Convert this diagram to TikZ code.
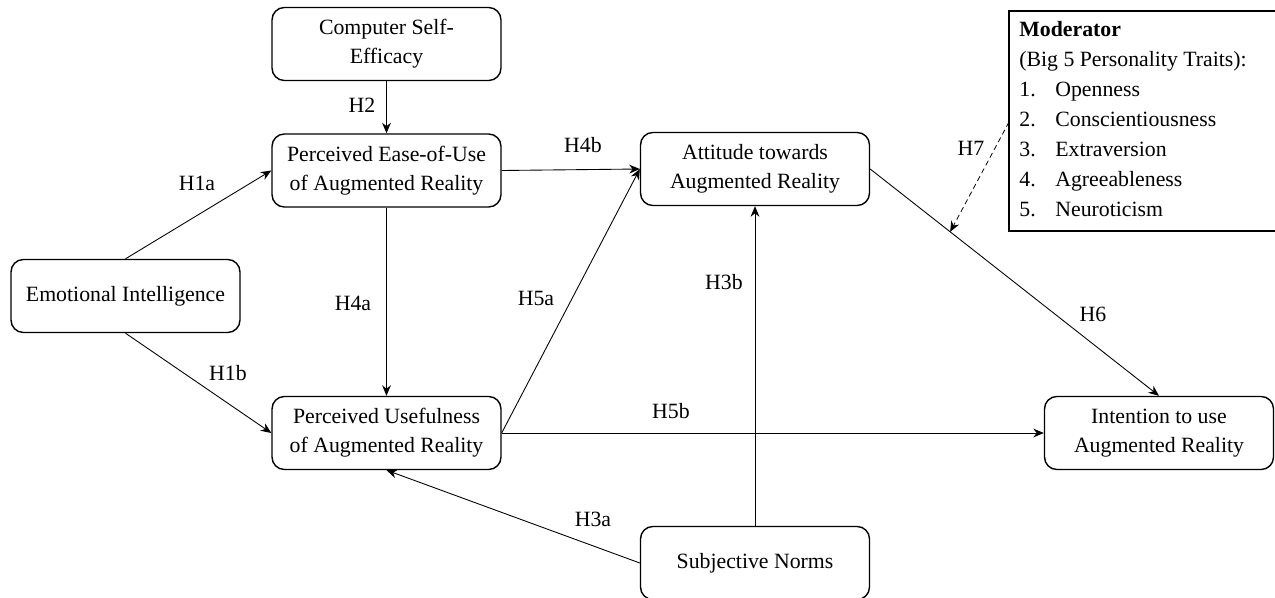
\documentclass[tikz,border=0pt]{standalone}
\usepackage{fontspec}
\setmainfont{Liberation Serif}
\usetikzlibrary{positioning, arrows.meta}

\begin{document}
\begin{tikzpicture}[
        x=0.02cm, y=-0.02cm,
        every node/.style={font=\fontsize{12.4}{16.4}\selectfont},
        construct/.style={draw, rectangle, rounded corners=7pt, line width=0.8pt, minimum width=4.58cm, minimum height=1.46cm, align=center, inner sep=2pt},
        hyp/.style={inner sep=1pt},
        link/.style={-{Stealth[length=6pt, width=5pt]}, line width=0.5pt},
        >=Stealth
    ]
        \useasboundingbox (0,0) rectangle (1275,598);

        % constructs
        \node[construct] (cse) at (386.5,44) {Computer Self-\\Efficacy};
        \node[construct] (peou) at (386.5,170.5) {Perceived Ease-of-Use\\of Augmented Reality};
        \node[construct] (ei) at (125.5,296) {Emotional Intelligence};
        \node[construct] (pu) at (386.5,433) {Perceived Usefulness\\of Augmented Reality};
        \node[construct] (att) at (755,169) {Attitude towards\\Augmented Reality};
        \node[construct] (iu) at (1159,433) {Intention to use\\Augmented Reality};
        \node[construct] (sn) at (755,563) {Subjective Norms};

        % moderator
        \draw[line width=0.8pt] (1009,11) rectangle (1290,231);
        \node[anchor=north west, align=left, inner sep=0pt, font=\fontsize{12.4}{17.1}\selectfont] (mod) at (1019,21) {%
            \textbf{Moderator}\\
            (Big 5 Personality Traits):\\
            \makebox[0.72cm][l]{1.}Openness\\
            \makebox[0.72cm][l]{2.}Conscientiousness\\
            \makebox[0.72cm][l]{3.}Extraversion\\
            \makebox[0.72cm][l]{4.}Agreeableness\\
            \makebox[0.72cm][l]{5.}Neuroticism};

        % paths
        \draw[link] (ei.north) -- (peou.west);
        \draw[link] (ei.south) -- (pu.west);
        \draw[link] (cse) -- (peou);
        \draw[link] (peou) -- (pu);
        \draw[link] (peou.east) -- (att.west);
        \draw[link] (pu.east) -- (att.west);
        \draw[link] (pu.east) -- (iu.west);
        \draw[link] (sn) -- (att);
        \draw[link] (sn.west) -- (pu.south);
        \draw[link] (att.east) -- coordinate[pos=0.277] (mid) (iu.north);
        \draw[link, densely dashed, line width=0.45pt] (1009,122) coordinate (modl) -- (mid);

        % hypothesis labels
        \node[hyp] (h1a) at (197,183) {H1a};
        \node[hyp] (h1b) at (228,373) {H1b};
        \node[hyp] (h2) at (362,105) {H2};
        \node[hyp] (h4a) at (353,303) {H4a};
        \node[hyp] (h4b) at (583,145) {H4b};
        \node[hyp] (h5a) at (536,298) {H5a};
        \node[hyp] (h5b) at (671,411) {H5b};
        \node[hyp] (h3b) at (724,282) {H3b};
        \node[hyp] (h3a) at (593,519) {H3a};
        \node[hyp] (h6) at (1093,314) {H6};
        \node[hyp] (h7) at (971,148) {H7};
    \end{tikzpicture}
\end{document}
